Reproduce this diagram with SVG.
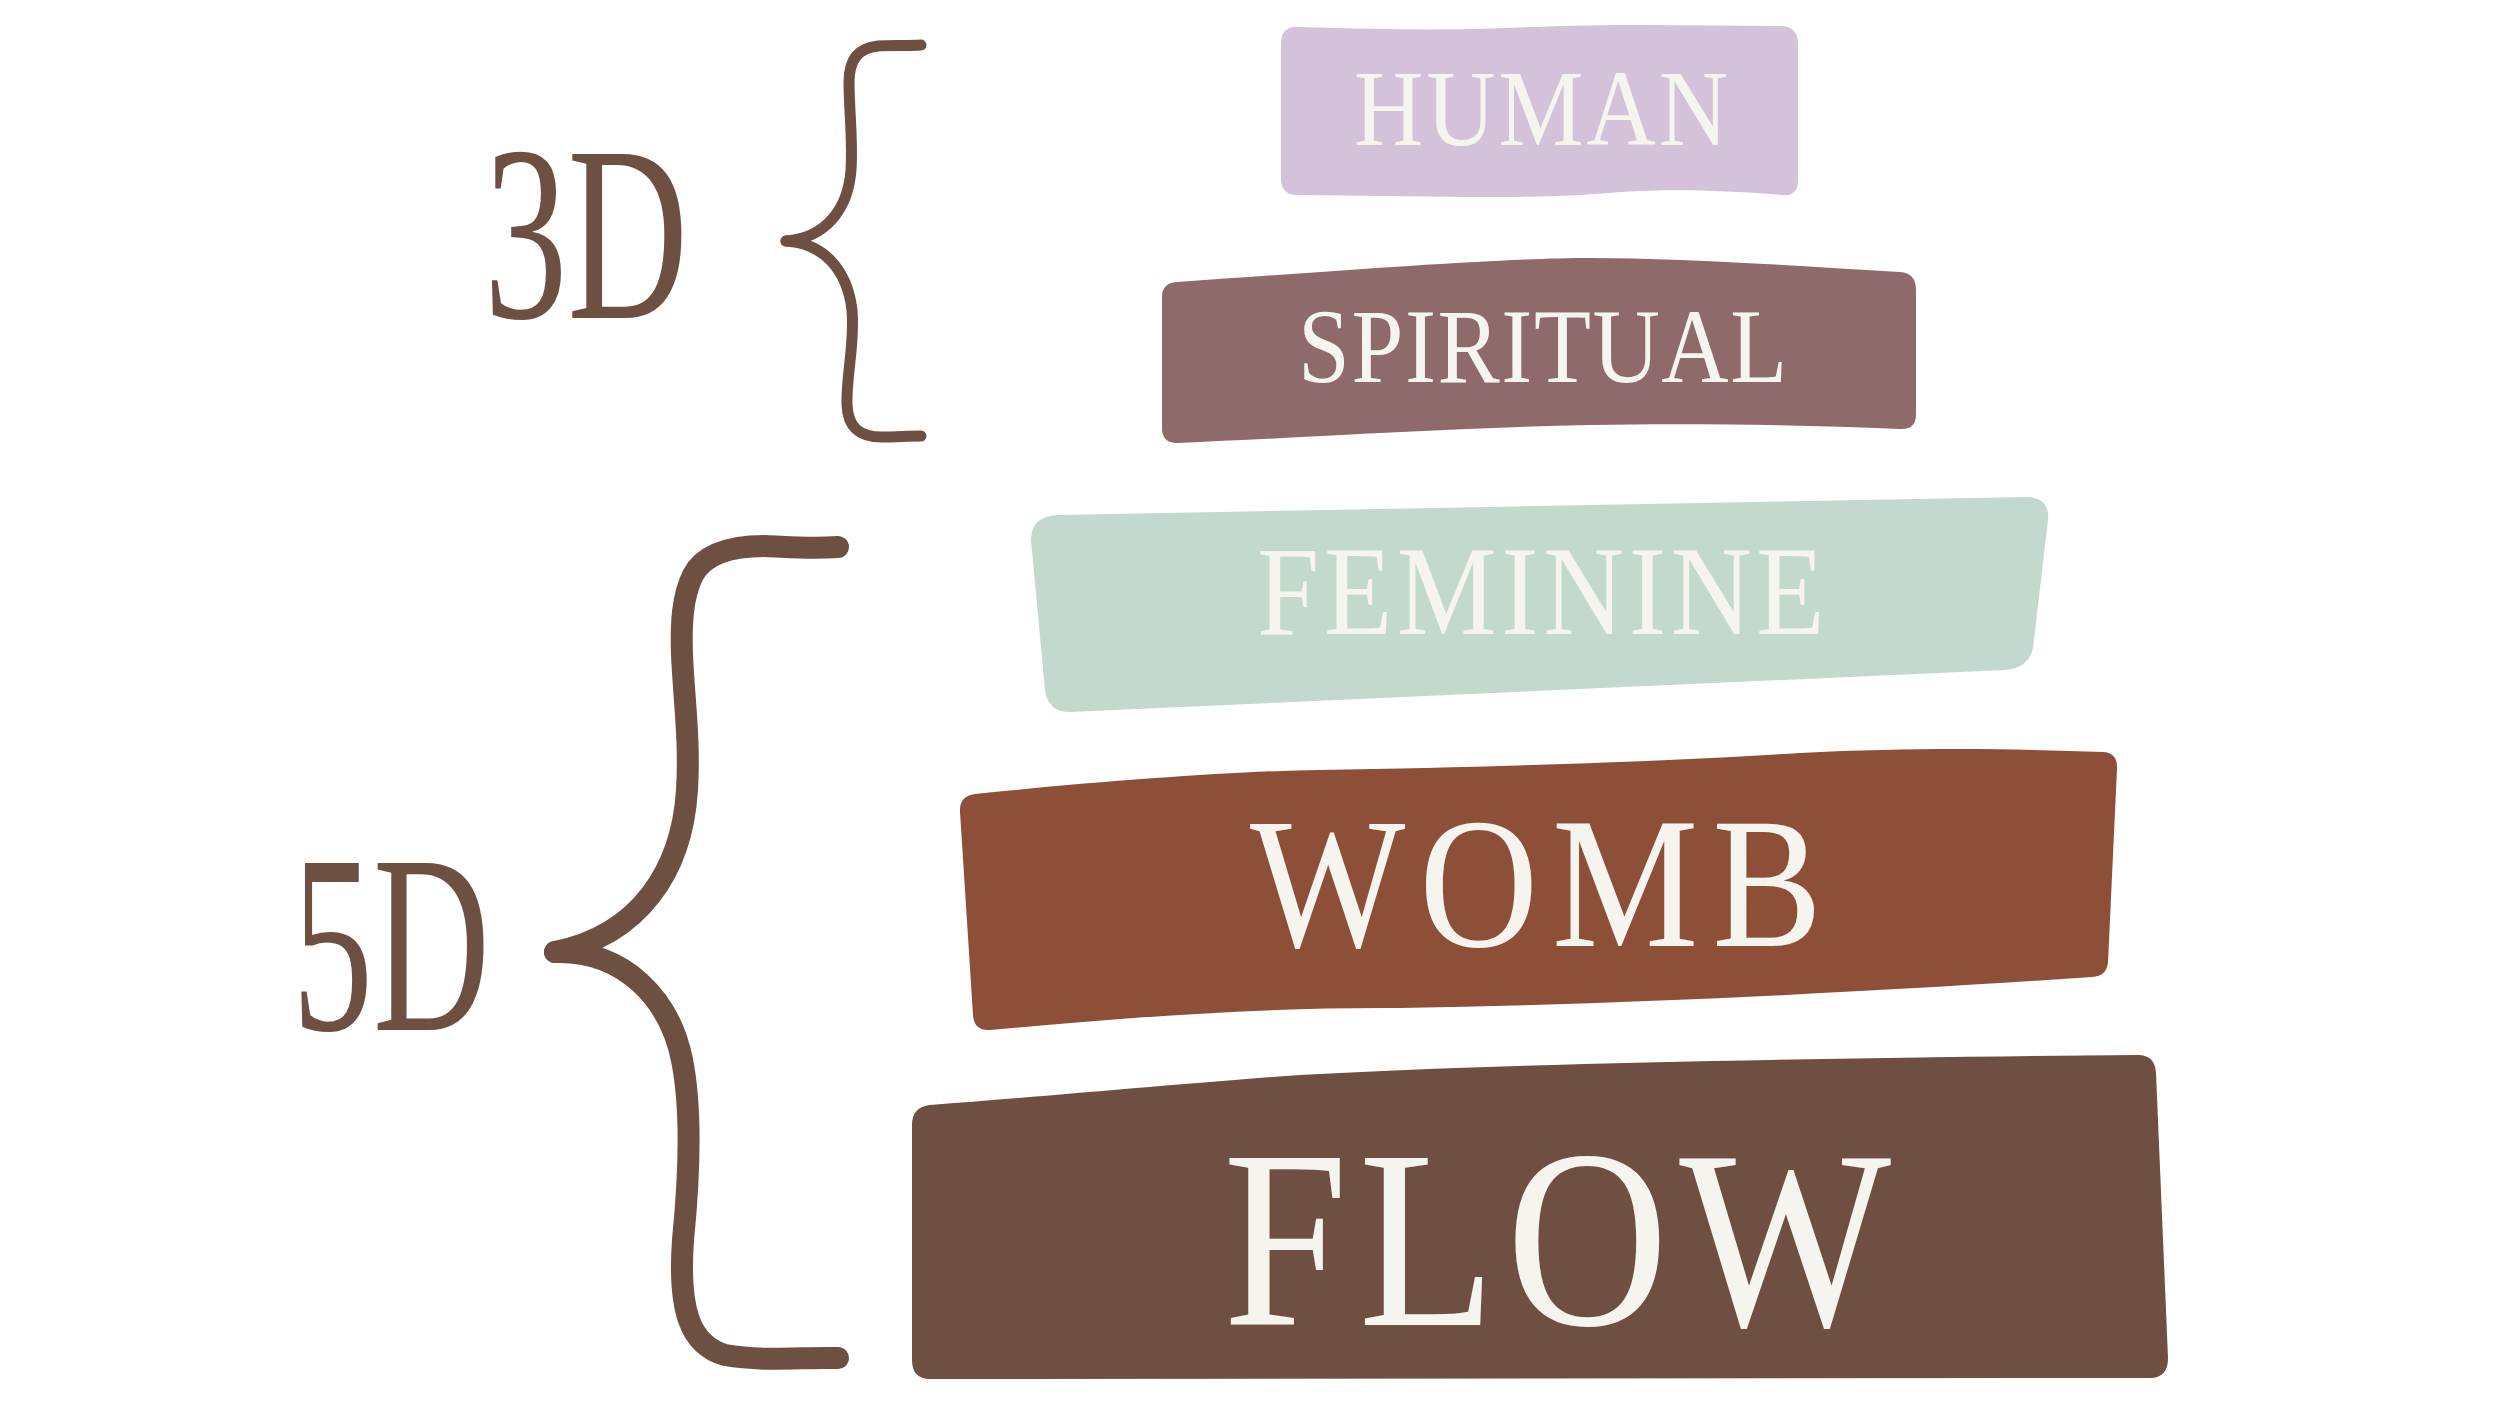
<svg xmlns="http://www.w3.org/2000/svg" width="2500" height="1406" viewBox="0 0 2500 1406">
<style>
.lbl{font-family:"Liberation Serif","DejaVu Serif",serif;fill:#F6F4EE;}
.dim{font-family:"Liberation Serif","DejaVu Serif",serif;fill:#6E5042;}
.brace{fill:none;stroke:#6E5042;stroke-linecap:round;stroke-linejoin:round;}
</style>
<rect width="2500" height="1406" fill="#FFFFFF"/>
<g id="label-3d">
<text class="dim" x="484" y="318" font-size="251" textLength="204" lengthAdjust="spacingAndGlyphs">3D</text>
</g>
<g id="label-5d">
<text class="dim" x="292" y="1030" font-size="254" textLength="198" lengthAdjust="spacingAndGlyphs">5D</text>
</g>
<g id="connectors">
<path class="brace" stroke-width="11" d="M 921 45 C 905 46, 890 45, 878 46 C 858 48, 849 60, 849 82 C 849 110, 853 140, 851 170 C 848 210, 825 238, 786 241"/>
<path class="brace" stroke-width="11" d="M 786 241 C 822 243, 847 268, 852 310 C 855 345, 846 375, 847 405 C 848 428, 860 437, 882 437 C 897 437, 907 436, 921 436"/>
<path class="brace" stroke-width="22" d="M 838 547 C 810 549, 790 547, 765 546 C 725 546, 703 556, 693 575 C 682 597, 681 625, 682 655 C 684 700, 690 740, 687 790 C 682 870, 640 935, 555 952"/>
<path class="brace" stroke-width="22" d="M 555 952 C 625 950, 670 1000, 682 1060 C 692 1110, 689 1180, 683 1240 C 678 1310, 690 1345, 725 1355 C 765 1362, 800 1357, 838 1358"/>
</g>
<g id="node-human">
<path fill="#D3C2DA" d="M 1296 27 C 1380 29, 1420 30, 1470 29 C 1520 28, 1560 25, 1640 25 L 1782 26 Q 1798 27, 1798 44 L 1798 180 Q 1798 197, 1782 195 C 1720 190, 1670 189, 1620 192 C 1580 196, 1540 197, 1470 197 L 1297 195 Q 1281 195, 1281 178 L 1281 44 Q 1281 27, 1296 27 Z"/>
<text class="lbl" transform="translate(1354 145) scale(0.88 1)" font-size="109" textLength="425" lengthAdjust="spacing">HUMAN</text>
</g>
<g id="node-spiritual">
<path fill="#8E6A6B" d="M 1177 282 C 1350 270, 1500 258, 1590 258 C 1680 258, 1800 266, 1900 272 Q 1916 273, 1916 290 L 1916 414 Q 1916 430, 1900 429 C 1800 425, 1700 423, 1590 425 C 1450 428, 1300 438, 1177 443 Q 1162 443, 1162 428 L 1162 297 Q 1162 283, 1177 282 Z"/>
<text class="lbl" transform="translate(1298 382) scale(0.88 1)" font-size="106" textLength="556" lengthAdjust="spacing">SPIRITUAL</text>
</g>
<g id="node-feminine">
<path fill="#C3D9CD" d="M 1058 515 L 2026 497 Q 2050 497, 2048 520 L 2033 648 Q 2029 668, 2005 670 L 1070 712 Q 1048 712, 1045 690 L 1031 540 Q 1031 516, 1058 515 Z"/>
<text class="lbl" transform="translate(1257 634) scale(0.88 1)" font-size="127" textLength="645" lengthAdjust="spacing">FEMININE</text>
</g>
<g id="node-womb">
<path fill="#8E4F39" d="M 975 794 C 1100 781, 1240 771, 1320 770 C 1500 767, 1650 762, 1800 753 C 1920 747, 2020 749, 2103 752 Q 2118 753, 2117 769 L 2108 962 Q 2107 976, 2092 977 C 1900 990, 1650 1004, 1400 1008 C 1250 1007, 1100 1020, 990 1030 Q 974 1031, 973 1015 L 960 812 Q 959 796, 975 794 Z"/>
<text class="lbl" transform="translate(1250 946) scale(0.88 1)" font-size="187" textLength="650" lengthAdjust="spacing">WOMB</text>
</g>
<g id="node-flow">
<path fill="#6E4F41" d="M 930 1105 C 1050 1096, 1200 1082, 1300 1075 C 1500 1064, 1800 1058, 2138 1055 Q 2155 1055, 2156 1073 L 2168 1358 Q 2168 1378, 2150 1378 L 930 1379 Q 912 1379, 912 1360 L 912 1125 Q 912 1107, 930 1105 Z"/>
<text class="lbl" transform="translate(1223 1325) scale(0.88 1)" font-size="255" textLength="759" lengthAdjust="spacing">FLOW</text>
</g>
</svg>
